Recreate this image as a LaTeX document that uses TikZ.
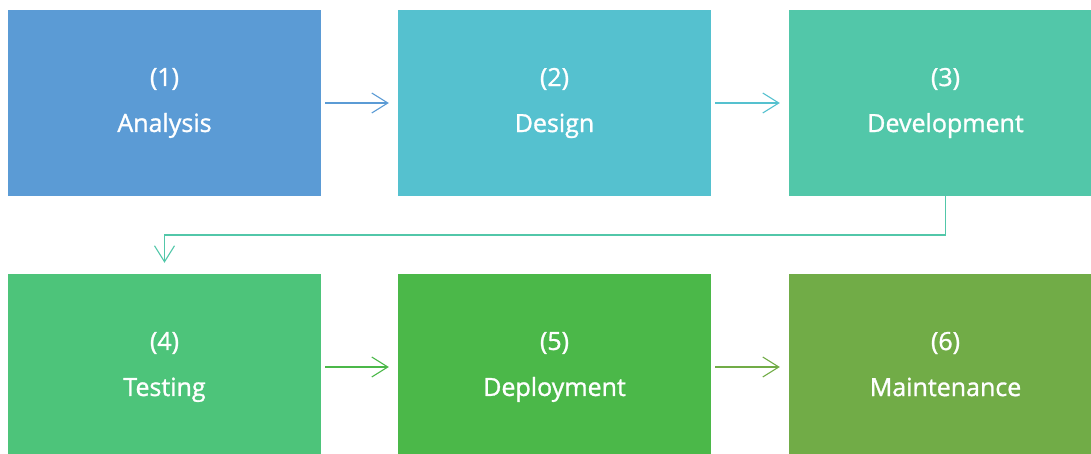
\documentclass[tikz,border=0pt]{standalone}
\usepackage{fontspec}
\setmainfont{Open Sans}
\newfontfamily\lblfont[FakeBold=1.2]{Open Sans}
\usetikzlibrary{arrows.meta}
\definecolor{c1}{HTML}{5B9BD5}
\definecolor{c2}{HTML}{55C1CF}
\definecolor{c3}{HTML}{52C7A9}
\definecolor{c4}{HTML}{4DC47A}
\definecolor{c5}{HTML}{4BB849}
\definecolor{c6}{HTML}{71AC47}
\newcommand{\stagelbl}[2]{#1\\#2\vphantom{gy}}
\begin{document}
\begin{tikzpicture}[x=1pt,y=-1pt,
  stage/.style={fill=#1,draw=none,inner sep=0pt,text=white,align=center,
    minimum width=313pt,minimum height=186pt,
    font=\lblfont\fontsize{25}{46}\selectfont},
  conn/.style={draw=#1,line width=1.1pt,-{Straight Barb[length=16pt,width=20pt,line width=1.1pt]},
    shorten <=4pt,shorten >=9pt}]
\useasboundingbox (0,0) rectangle (1091,454);
\clip (0,0) rectangle (1091,454);
\node[stage=c1] (a) at (164.5,103) {\stagelbl{(1)}{Analysis}};
\node[stage=c2] (b) at (554.5,103) {\stagelbl{(2)}{Design}};
\node[stage=c3] (c) at (945.5,103) {\stagelbl{(3)}{Development}};
\node[stage=c4] (d) at (164.5,367) {\stagelbl{(4)}{Testing}};
\node[stage=c5] (e) at (554.5,367) {\stagelbl{(5)}{Deployment}};
\node[stage=c6] (f) at (945.5,367) {\stagelbl{(6)}{Maintenance}};
\draw[conn=c1] (a) -- (b);
\draw[conn=c2] (b) -- (c);
\draw[conn=c5] (d) -- (e);
\draw[conn=c6] (e) -- (f);
\coordinate (k1) at (945.5,235);
\coordinate (k2) at (164.5,235);
\draw[conn=c3,shorten <=0pt,shorten >=11pt] (c.south) -- (k1) -- (k2) -- (d.north);
\end{tikzpicture}
\end{document}
